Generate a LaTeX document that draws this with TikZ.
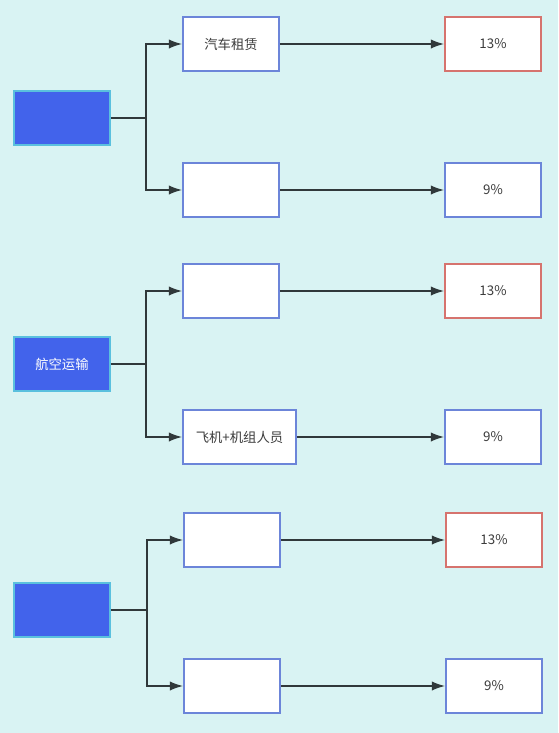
\documentclass[tikz,border=0pt]{standalone}
\usepackage{fontspec}
\setmainfont{Noto Sans CJK SC}
\usepackage{xcolor}
\usepackage{tikz}
\usetikzlibrary{positioning,arrows.meta,calc}
\definecolor{bgcyan}{RGB}{217,243,243}
\definecolor{royal}{RGB}{66,99,235}
\definecolor{edgecyan}{RGB}{90,192,222}
\definecolor{edgeblue}{RGB}{108,133,217}
\definecolor{edgered}{RGB}{214,115,110}
\definecolor{wire}{RGB}{48,56,58}
\definecolor{txtgrey}{RGB}{60,60,60}
\tikzset{
  cat/.style  ={draw=edgecyan, fill=royal, line width=1.2pt, minimum width=72pt,
                minimum height=40.5pt, text=white, font=\fontsize{10}{12}\selectfont},
  item/.style ={draw=edgeblue, fill=white, line width=1.2pt, minimum width=72pt,
                minimum height=40.5pt, text=txtgrey, font=\fontsize{10}{12}\selectfont},
  rate/.style ={item},
  hrate/.style={item, draw=edgered},
  ln/.style   ={draw=wire, line width=1.3pt},
  ar/.style   ={-{Latex[length=10pt,width=7pt]}, draw=wire, line width=1.3pt},
}

\begin{document}
\begin{tikzpicture}[x=0.75pt,y=-0.75pt]
\useasboundingbox[fill=bgcyan] (0,0) rectangle (558,733);

% group 1
\node[cat]   (c1)  at (62,118) {};
\node[item]  (i1a) at (231,44) {汽车租赁};
\node[item]  (i1b) at (231,190) {};
\node[hrate] (r1a) at (493,44) {13\%};
\node[rate]  (r1b) at (493,190) {9\%};
\coordinate (j1) at (146,118);
\draw[ln] (c1.east) -- (j1);
\draw[ar] (j1) |- (i1a.west);
\draw[ar] (j1) |- (i1b.west);
\draw[ar] (i1a) -- (r1a);
\draw[ar] (i1b) -- (r1b);

% group 2
\node[cat]   (c2)  at (62,364) {航空运输};
\node[item]  (i2a) at (231,291) {};
\node[item,minimum width=84.75pt] (i2b) at (239.5,437) {飞机+机组人员};
\node[hrate] (r2a) at (493,291) {13\%};
\node[rate]  (r2b) at (493,437) {9\%};
\coordinate (j2) at (146,364);
\draw[ln] (c2.east) -- (j2);
\draw[ar] (j2) |- (i2a.west);
\draw[ar] (j2) |- (i2b.west);
\draw[ar] (i2a) -- (r2a);
\draw[ar] (i2b) -- (r2b);

% group 3
\node[cat]   (c3)  at (62,610) {};
\node[item]  (i3a) at (232,540) {};
\node[item]  (i3b) at (232,686) {};
\node[hrate] (r3a) at (494,540) {13\%};
\node[rate]  (r3b) at (494,686) {9\%};
\coordinate (j3) at (147,610);
\draw[ln] (c3.east) -- (j3);
\draw[ar] (j3) |- (i3a.west);
\draw[ar] (j3) |- (i3b.west);
\draw[ar] (i3a) -- (r3a);
\draw[ar] (i3b) -- (r3b);
\end{tikzpicture}
\end{document}
